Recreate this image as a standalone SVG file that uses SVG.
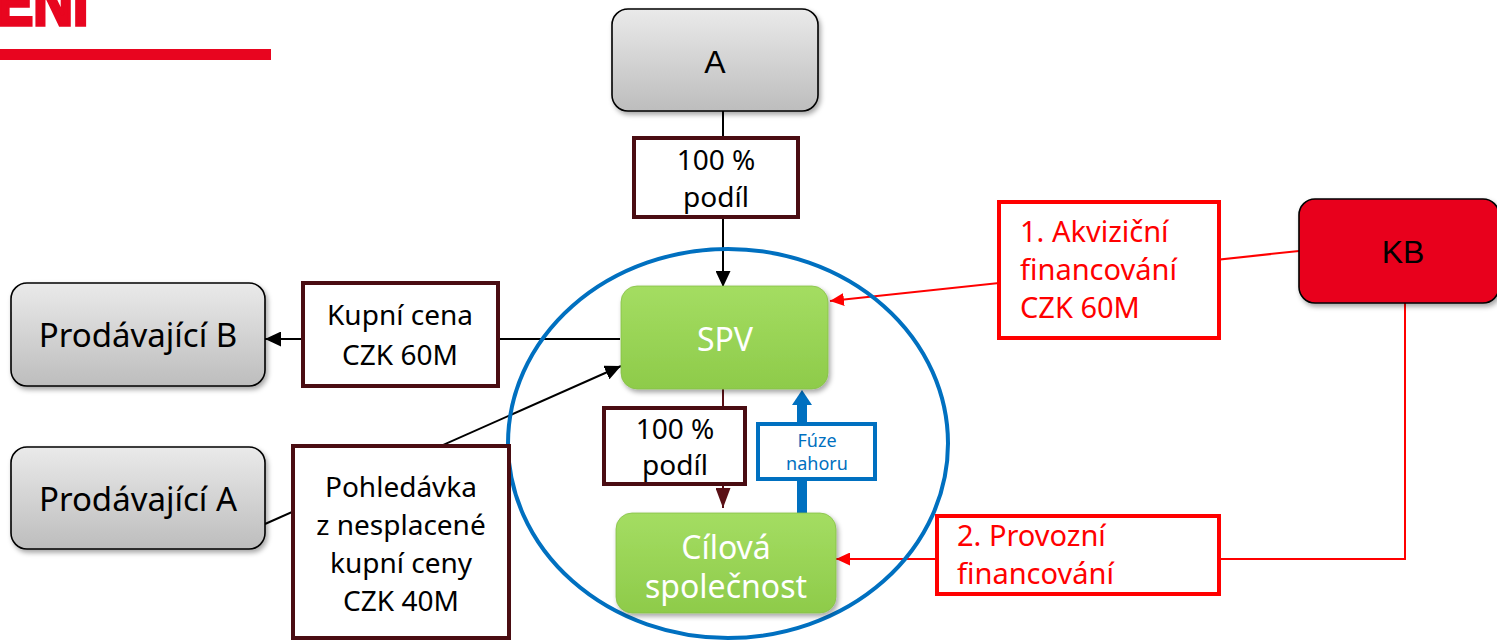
<svg xmlns="http://www.w3.org/2000/svg" width="1497" height="643" viewBox="0 0 1497 643">
  <defs>
    <style>
      .calibri { font-family: "Noto Sans", "Open Sans", sans-serif; }
      .arial { font-family: "Liberation Sans", Arial, sans-serif; }
      .grayNode { fill: url(#grayGrad); stroke: #000; stroke-width: 1.6; filter: url(#shadow); }
      .greenNode { fill: url(#greenGrad); stroke: #86C048; stroke-width: 0.8; filter: url(#shadow); }
      .maroonBox { fill: #fff; stroke: #4A0D12; stroke-width: 4; }
      .redBox { fill: #fff; stroke: #FF0000; stroke-width: 4; }
      .blueBox { fill: #fff; stroke: #0070C0; stroke-width: 4; }
      .dark { fill: #000; }
      .white { fill: #fff; }
      .red { fill: #FF0000; }
      .blue { fill: #0070C0; }
      .line-black { stroke: #000; stroke-width: 2; fill: none; }
      .line-maroon { stroke: #5A1016; stroke-width: 2; fill: none; }
      .line-red { stroke: #FF0000; stroke-width: 2; fill: none; }
    </style>
    <linearGradient id="grayGrad" x1="0" y1="0" x2="0" y2="1">
      <stop offset="0" stop-color="#EAEAEA"/>
      <stop offset="1" stop-color="#BDBDBD"/>
    </linearGradient>
    <linearGradient id="greenGrad" x1="0" y1="0" x2="0" y2="1">
      <stop offset="0" stop-color="#A4DD62"/>
      <stop offset="1" stop-color="#8ECB4A"/>
    </linearGradient>
    <filter id="shadow" x="-10%" y="-10%" width="125%" height="130%">
      <feDropShadow dx="2" dy="3" stdDeviation="2.5" flood-color="#000" flood-opacity="0.35"/>
    </filter>
    <marker id="arrowBlack" markerUnits="userSpaceOnUse" markerWidth="16" markerHeight="15" refX="16" refY="7.5" orient="auto">
      <path d="M0,0 L16,7.5 L0,15 z" fill="#000"/>
    </marker>
    <marker id="arrowMaroon" markerUnits="userSpaceOnUse" markerWidth="20" markerHeight="15" refX="20" refY="7.5" orient="auto">
      <path d="M0,0 L20,7.5 L0,15 z" fill="#5A1016"/>
    </marker>
    <marker id="arrowRed" markerUnits="userSpaceOnUse" markerWidth="14" markerHeight="13" refX="14" refY="6.5" orient="auto">
      <path d="M0,0 L14,6.5 L0,13 z" fill="#FF0000"/>
    </marker>
  </defs>

  <rect width="1497" height="643" fill="#fff"/>

  <!-- page heading (runs off the top edge) and rule -->
  <g id="heading">
    <text x="-4" y="25" transform="scale(0.86,1)" class="arial" font-size="64" font-weight="bold" fill="#E8051F" stroke="#E8051F" stroke-width="3.5">ENI</text>
    <rect x="0" y="49" width="271" height="11" fill="#E8051F"/>
  </g>

  <!-- connectors -->
  <g id="connectors">
    <line class="line-black" x1="723" y1="111" x2="723" y2="287" marker-end="url(#arrowBlack)"/>
    <line class="line-black" x1="620" y1="339" x2="265" y2="339" marker-end="url(#arrowBlack)"/>
    <line class="line-black" x1="265" y1="524" x2="621" y2="366" marker-end="url(#arrowBlack)"/>
    <line class="line-maroon" x1="723" y1="389" x2="723" y2="508" marker-end="url(#arrowMaroon)"/>
    <line class="line-red" x1="1299" y1="251" x2="830" y2="301" marker-end="url(#arrowRed)"/>
    <path class="line-red" d="M1405,303 V559 H836" marker-end="url(#arrowRed)"/>
    <!-- upstream merger arrow -->
    <rect x="797" y="404" width="10" height="109" fill="#0070C0"/>
    <path d="M792,405 L802,390 L812,405 z" fill="#0070C0"/>
  </g>

  <!-- group boundary -->
  <ellipse id="boundary" cx="728" cy="443.5" rx="220" ry="194.5" fill="none" stroke="#0070C0" stroke-width="4"/>

  <!-- nodes -->
  <g id="node-a">
    <rect class="grayNode" x="612" y="9" width="206" height="102" rx="16"/>
    <text x="715" y="73" class="arial dark" font-size="32" text-anchor="middle">A</text>
  </g>

  <g id="label-podil-top">
    <rect class="maroonBox" x="634" y="138" width="164" height="79"/>
    <text x="716" y="170" class="calibri dark" font-size="28" text-anchor="middle">100 %</text>
    <text x="716" y="207" class="calibri dark" font-size="28" text-anchor="middle">podíl</text>
  </g>

  <g id="node-spv">
    <rect class="greenNode" x="621" y="286" width="207" height="103" rx="16"/>
    <text x="725" y="351" class="calibri white" font-size="32" text-anchor="middle">SPV</text>
  </g>

  <g id="label-podil-bottom">
    <rect class="maroonBox" x="604" y="408" width="141" height="76"/>
    <text x="675" y="439" class="calibri dark" font-size="28" text-anchor="middle">100 %</text>
    <text x="675" y="475" class="calibri dark" font-size="28" text-anchor="middle">podíl</text>
  </g>

  <g id="label-fuze">
    <rect class="blueBox" x="758" y="424" width="117" height="55"/>
    <text x="817" y="447" class="calibri blue" font-size="18" text-anchor="middle">Fúze</text>
    <text x="817" y="470" class="calibri blue" font-size="18" text-anchor="middle">nahoru</text>
  </g>

  <g id="node-cilova">
    <rect class="greenNode" x="616" y="513" width="220" height="100" rx="16"/>
    <text x="726" y="559" class="calibri white" font-size="32" text-anchor="middle">Cílová</text>
    <text x="726" y="598" class="calibri white" font-size="32" text-anchor="middle">společnost</text>
  </g>

  <g id="node-prodavajici-b">
    <rect class="grayNode" x="11" y="283" width="254" height="103" rx="16"/>
    <text x="138" y="347" class="calibri dark" font-size="33" text-anchor="middle">Prodávající B</text>
  </g>

  <g id="label-kupni-cena">
    <rect class="maroonBox" x="303" y="283" width="195" height="103"/>
    <text x="400" y="325" class="calibri dark" font-size="28" text-anchor="middle">Kupní cena</text>
    <text x="400" y="365" class="calibri dark" font-size="28" text-anchor="middle">CZK 60M</text>
  </g>

  <g id="node-prodavajici-a">
    <rect class="grayNode" x="11" y="447" width="254" height="102" rx="16"/>
    <text x="138" y="511" class="calibri dark" font-size="33" text-anchor="middle">Prodávající A</text>
  </g>

  <g id="label-pohledavka">
    <rect class="maroonBox" x="293" y="446" width="216" height="192"/>
    <text x="401" y="497" class="calibri dark" font-size="28" text-anchor="middle">Pohledávka</text>
    <text x="401" y="535" class="calibri dark" font-size="28" text-anchor="middle">z nesplacené</text>
    <text x="401" y="573" class="calibri dark" font-size="28" text-anchor="middle">kupní ceny</text>
    <text x="401" y="611" class="calibri dark" font-size="28" text-anchor="middle">CZK 40M</text>
  </g>

  <g id="node-kb">
    <rect class="grayNode" x="1299" y="199" width="200" height="104" rx="16" style="fill:#E8051F"/>
    <text x="1403" y="263" class="arial dark" font-size="32" text-anchor="middle">KB</text>
  </g>

  <g id="label-akvizicni">
    <rect class="redBox" x="999" y="202" width="220" height="136"/>
    <text x="1020" y="242" class="calibri red" font-size="29">1. Akviziční</text>
    <text x="1020" y="280" class="calibri red" font-size="29">financování</text>
    <text x="1020" y="318" class="calibri red" font-size="29">CZK 60M</text>
  </g>

  <g id="label-provozni">
    <rect class="redBox" x="937" y="516" width="282" height="78"/>
    <text x="957" y="546" class="calibri red" font-size="29">2. Provozní</text>
    <text x="957" y="584" class="calibri red" font-size="29">financování</text>
  </g>
</svg>
